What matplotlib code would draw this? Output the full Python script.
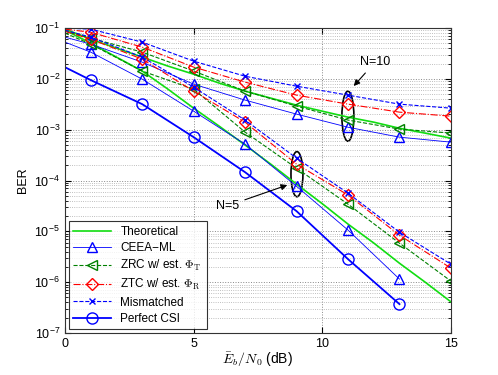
import matplotlib
matplotlib.use("Agg")
import matplotlib.pyplot as plt
from matplotlib.patches import Ellipse

# Eb/N0 (dB)
snr_full = list(range(16))
snr = [0, 1, 3, 5, 7, 9, 11, 13, 15]
snr13 = [0, 1, 3, 5, 7, 9, 11, 13]

# theoretical curves
theo_n5 = [9.1e-2, 5.07e-2, 2.69e-2, 1.43e-2, 6.3e-3, 2.66e-3, 1.17e-3, 5.0e-4,
           2.1e-4, 8.5e-5, 3.5e-5, 1.39e-5, 5.9e-6, 2.36e-6, 1.0e-6, 4.1e-7]
theo_n10 = [9.55e-2, 6.07e-2, 4.04e-2, 2.69e-2, 1.79e-2, 1.24e-2, 8.26e-3, 5.75e-3,
            4.19e-3, 3.05e-3, 2.32e-3, 1.77e-3, 1.41e-3, 1.07e-3, 8.57e-4, 6.84e-4]

# CEEA-ML
ceea_n5 = [5.3e-2, 3.37e-2, 9.9e-3, 2.32e-3, 5.2e-4, 7.7e-5, 1.06e-5, 1.15e-6]
ceea_n10 = [6.65e-2, 4.84e-2, 2.14e-2, 7.9e-3, 3.83e-3, 2.03e-3, 1.12e-3, 7.15e-4, 5.7e-4]

# ZRC w/ est. Phi_T
zrc_n5 = [7.97e-2, 4.84e-2, 1.43e-2, 6.3e-3, 8.97e-4, 1.75e-4, 3.43e-5, 5.86e-6, 1.05e-6]
zrc_n10 = [8.7e-2, 6.35e-2, 3.37e-2, 1.43e-2, 5.75e-3, 2.92e-3, 1.55e-3, 1.03e-3, 8.6e-4]

# ZTC w/ est. Phi_R
ztc_n5 = [8.7e-2, 6.07e-2, 2.45e-2, 5.75e-3, 1.41e-3, 2.1e-4, 5.2e-5, 8.4e-6, 1.89e-6]
ztc_n10 = [9.55e-2, 8.3e-2, 4.23e-2, 1.71e-2, 8.65e-3, 4.8e-3, 3.19e-3, 2.22e-3, 1.85e-3]

# Mismatched
mis_n5 = [9.1e-2, 6.65e-2, 2.69e-2, 6.9e-3, 1.55e-3, 2.76e-4, 5.65e-5, 9.6e-6, 2.26e-6]
mis_n10 = [1.0e-1, 9.55e-2, 5.3e-2, 2.24e-2, 1.13e-2, 7.2e-3, 4.8e-3, 3.19e-3, 2.66e-3]

# Perfect CSI
csi = [1.7e-2, 9.5e-3, 3.19e-3, 7.15e-4, 1.46e-4, 2.5e-5, 2.84e-6, 3.7e-7]

plt.rcParams['font.family'] = ['Liberation Sans', 'DejaVu Sans']
plt.rcParams['mathtext.fontset'] = 'cm'

fig = plt.figure(figsize=(4.98, 3.75), dpi=100)
ax = fig.add_axes([0.1305, 0.112, 0.775, 0.813])

green = '#11dd11'
dgreen = '#008000'
mk = dict(markersize=7, markerfacecolor='none', markevery=slice(1, None))

ax.plot(snr_full, theo_n5, '-', color=green, lw=1.2, label='Theoretical')
ax.plot(snr_full, theo_n10, '-', color=green, lw=1.2)

ax.plot(snr13, ceea_n5, '-', color='blue', lw=0.6, marker='^', markeredgecolor='blue', **mk,
        label='CEEA\u2212ML')
ax.plot(snr, ceea_n10, '-', color='blue', lw=0.6, marker='^', markeredgecolor='blue', **mk)

ax.plot(snr, zrc_n5, '--', color=dgreen, lw=0.8, marker='<', markeredgecolor=dgreen, **mk,
        label=r'ZRC w/ est. $\Phi_{\rm T}$')
ax.plot(snr, zrc_n10, '--', color=dgreen, lw=0.8, marker='<', markeredgecolor=dgreen, **mk)

ax.plot(snr, ztc_n5, '-.', color='red', lw=0.8, marker='D', markeredgecolor='red',
        markersize=6, markerfacecolor='none', markevery=slice(1, None),
        label=r'ZTC w/ est. $\Phi_{\rm R}$')
ax.plot(snr, ztc_n10, '-.', color='red', lw=0.8, marker='D', markeredgecolor='red',
        markersize=6, markerfacecolor='none', markevery=slice(1, None))

ax.plot(snr, mis_n5, '--', color='blue', lw=0.8, marker='x', markersize=5,
        markevery=slice(1, None), label='Mismatched')
ax.plot(snr, mis_n10, '--', color='blue', lw=0.8, marker='x', markersize=5,
        markevery=slice(1, None))

ax.plot(snr13, csi, '-', color='blue', lw=1.3, marker='o', markeredgecolor='blue',
        markersize=8, markerfacecolor='none', markevery=slice(1, None), label='Perfect CSI')

ax.set_yscale('log')
ax.set_xlim(0, 15)
ax.set_ylim(1e-7, 1e-1)
ax.set_xticks([0, 5, 10, 15])
ax.tick_params(which='both', direction='in', top=True, right=True, labelsize=9)
ax.tick_params(which='major', length=4)
ax.tick_params(which='minor', length=2)
ax.grid(True, which='major', linestyle=':', color='#888888', lw=0.7)
ax.grid(True, which='minor', axis='y', linestyle=':', color='#aaaaaa', lw=0.6)
for s in ax.spines.values():
    s.set_color('#333333')

ax.set_xlabel(r'$\bar{E}_b/N_0$ (dB)', fontsize=10, labelpad=1)
ax.set_ylabel('BER', fontsize=9)

# ellipses around the N=10 and N=5 groups
ax.add_patch(Ellipse((0.733, 0.711), 0.031, 0.164, transform=ax.transAxes,
                     fill=False, color='black', lw=1.2))
ax.add_patch(Ellipse((0.601, 0.521), 0.031, 0.148, transform=ax.transAxes,
                     fill=False, color='black', lw=1.2))
ax.annotate('N=10', xy=(11.15, 6.6e-3), xytext=(12.05, 2.14e-2), ha='center', va='center',
            fontsize=9, arrowprops=dict(arrowstyle='-|>', color='black', lw=0.8))
ax.annotate('N=5', xy=(8.74, 8.5e-5), xytext=(6.33, 3.2e-5), ha='center', va='center',
            fontsize=9, arrowprops=dict(arrowstyle='-|>', color='black', lw=0.8))

leg = ax.legend(loc='lower left', fontsize=8.5, fancybox=False, edgecolor='black',
                handlelength=3.2, borderaxespad=0.3, labelspacing=0.35)
leg.get_frame().set_linewidth(0.8)

fig.savefig('out.png', dpi=100)
